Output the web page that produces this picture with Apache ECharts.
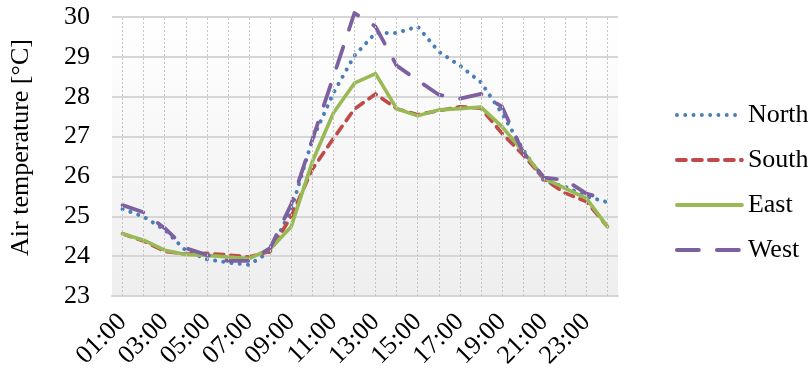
<!DOCTYPE html>
<html>
<head>
<meta charset="utf-8">
<script src="https://cdn.jsdelivr.net/npm/echarts@6/dist/echarts.min.js"></script>
<style>
  html, body { margin: 0; padding: 0; background: #ffffff; }
  #chart { width: 808px; height: 372px; }
</style>
</head>
<body>
<div id="chart"></div>
<script>
// Hourly air temperature by façade orientation
const hours = ['01:00','02:00','03:00','04:00','05:00','06:00','07:00','08:00','09:00','10:00','11:00','12:00',
               '13:00','14:00','15:00','16:00','17:00','18:00','19:00','20:00','21:00','22:00','23:00','24:00'];
const north = [25.18, 24.99, 24.66, 24.14, 23.92, 23.84, 23.78, 24.12, 25.16, 26.92, 28.09, 29.03,
               29.60, 29.60, 29.76, 29.13, 28.78, 28.36, 27.58, 26.67, 25.88, 25.74, 25.50, 25.35];
const south = [24.56, 24.38, 24.12, 24.05, 24.07, 24.03, 23.98, 24.12, 25.00, 26.18, 26.95, 27.69,
               28.07, 27.70, 27.55, 27.65, 27.75, 27.71, 27.08, 26.54, 25.93, 25.58, 25.37, 24.74];
const east  = [24.56, 24.40, 24.15, 24.04, 24.02, 23.98, 23.94, 24.18, 24.74, 26.37, 27.59, 28.34,
               28.58, 27.70, 27.52, 27.67, 27.70, 27.74, 27.25, 26.62, 25.95, 25.70, 25.45, 24.74];
const west  = [25.28, 25.10, 24.70, 24.20, 24.03, 23.88, 23.88, 24.20, 25.30, 26.92, 28.50, 30.10,
               29.76, 28.78, 28.41, 28.05, 27.95, 28.07, 27.75, 26.60, 25.97, 25.91, 25.57, 25.41];
const yTicks = { min: 23, max: 30, step: 1 };

const FONT = '"Liberation Serif", "Times New Roman", serif';

function lineSeries(name, data, color, type, width) {
  return {
    name: name,
    type: 'line',
    data: data,
    symbol: 'none',
    clip: false,
    z: 3,
    lineStyle: { color: color, width: width, type: type, cap: 'round', join: 'round' },
    itemStyle: { color: color }
  };
}

const chart = echarts.init(document.getElementById('chart'), null, { renderer: 'canvas' });
chart.setOption({
  animation: false,
  backgroundColor: '#ffffff',
  grid: {
    left: 110, right: 190, top: 17, bottom: 76,
    show: true,
    borderWidth: 0,
    backgroundColor: {
      type: 'linear', x: 0, y: 0, x2: 0, y2: 1,
      colorStops: [{ offset: 0, color: '#ffffff' }, { offset: 1, color: '#eeeeee' }]
    }
  },
  legend: {
    orient: 'vertical',
    left: 670, top: 97,
    itemWidth: 65, itemHeight: 24, itemGap: 19,
    itemStyle: { opacity: 0 },
    lineStyle: { width: 3.8 },
    data: ['North', 'South', 'East', 'West'],
    textStyle: { fontFamily: FONT, fontSize: 26, lineHeight: 24, color: '#000000', padding: [0, 0, 0, 1] }
  },
  xAxis: {
    type: 'category',
    data: hours,
    boundaryGap: true,
    axisLine: { show: true, lineStyle: { color: '#d4d4d4', width: 2 } },
    axisTick: { show: false },
    axisLabel: {
      interval: 1, rotate: 45, margin: 22,
      fontFamily: FONT, fontSize: 26, color: '#000000'
    },
    splitLine: { show: false }
  },
  yAxis: {
    type: 'value',
    min: yTicks.min, max: yTicks.max, interval: yTicks.step,
    name: 'Air temperature [°C]',
    nameLocation: 'middle', nameRotate: 90, nameGap: 78,
    nameTextStyle: { fontFamily: FONT, fontSize: 26, color: '#000000', padding: [0, 0, 0, 18] },
    axisLine: { show: false },
    axisTick: { show: false },
    axisLabel: { margin: 22, fontFamily: FONT, fontSize: 26, color: '#000000' },
    splitLine: { lineStyle: { color: '#d6d6d6', width: 2 } }
  },
  series: [
    {
      name: 'hourGuides',
      type: 'line',
      data: hours.map(() => null),
      symbol: 'none',
      z: 1,
      silent: true,
      markLine: {
        silent: true,
        symbol: 'none',
        label: { show: false },
        lineStyle: { color: '#c4c4c4', width: 1, type: [2, 2] },
        data: hours.map(h => ({ xAxis: h }))
      }
    },
    lineSeries('North', north, '#4a7ebb', [0.1, 8.2], 4),
    lineSeries('South', south, '#be4b48', [9, 7], 3.6),
    lineSeries('East', east, '#98b954', 'solid', 3.6),
    lineSeries('West', west, '#7d60a0', [22, 18], 3.8)
  ]
});
</script>
</body>
</html>
